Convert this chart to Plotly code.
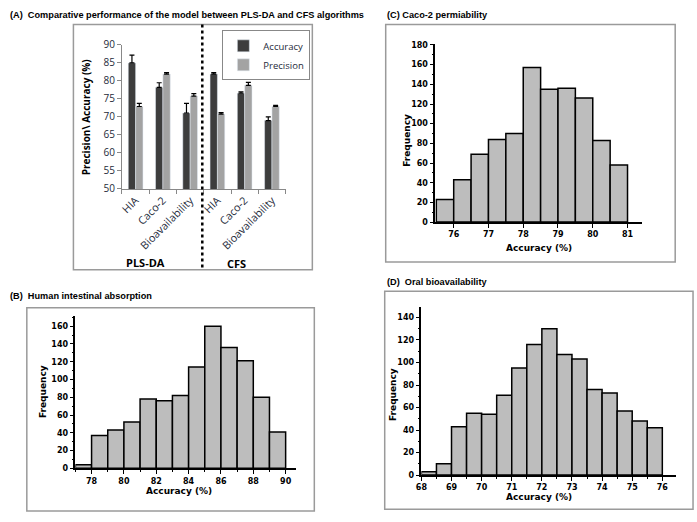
import plotly.graph_objects as go

W, H = 697, 522

# (A) model comparison
groups = ["HIA", "Caco-2", "Bioavailability", "HIA", "Caco-2", "Bioavailability"]
accuracy = [85.0, 78.2, 71.1, 81.9, 76.6, 69.0]
accuracy_err = [2.2, 1.3, 2.7, 0.4, 0.4, 1.0]
precision = [72.9, 81.9, 75.8, 70.8, 78.8, 72.9]
precision_err = [0.9, 0.4, 0.7, 0.4, 0.8, 0.3]

# (C) Caco-2 permeability histogram (bin left edges, width 0.5)
caco_edges = [75.5, 76.0, 76.5, 77.0, 77.5, 78.0, 78.5, 79.0, 79.5, 80.0, 80.5]
caco_freq = [23, 43, 69, 84, 90, 157, 135, 136, 126, 83, 58]

# (B) human intestinal absorption histogram (bin left edges, width 1)
hia_edges = [77, 78, 79, 80, 81, 82, 83, 84, 85, 86, 87, 88, 89]
hia_freq = [4, 37, 43, 52, 78, 76, 82, 114, 160, 136, 121, 80, 41]

# (D) oral bioavailability histogram (bin left edges, width 0.5)
bio_edges = [68.0, 68.5, 69.0, 69.5, 70.0, 70.5, 71.0, 71.5,
             72.0, 72.5, 73.0, 73.5, 74.0, 74.5, 75.0, 75.5]
bio_freq = [3, 10, 43, 55, 54, 71, 95, 116, 130, 107, 103, 76, 73, 57, 48, 42]


def px(x):
    return x / W


def py(y):
    return 1 - y / H


def centers(edges, width):
    return [e + width / 2 for e in edges]


HIST_FONT = dict(family="DejaVu Sans", size=8, color="black", weight="bold")
TITLE_FONT = dict(family="Liberation Sans, Arial", size=9.2, color="black", weight="bold")
XL_FONT = dict(family="Open Sans, Liberation Sans", size=10, color="#1e2a3a")

fig = go.Figure()

pos = list(range(len(groups)))
fig.add_trace(go.Bar(
    x=pos, y=accuracy, name="Accuracy", marker_color="#3d3d3d",
    error_y=dict(type="data", array=accuracy_err, arrayminus=[0] * len(pos),
                 symmetric=False, color="black", thickness=1.2, width=2.5),
    xaxis="x", yaxis="y"))
fig.add_trace(go.Bar(
    x=pos, y=precision, name="Precision", marker_color="#a3a3a3",
    error_y=dict(type="data", array=precision_err, arrayminus=[0] * len(pos),
                 symmetric=False, color="black", thickness=1.2, width=2.5),
    xaxis="x", yaxis="y"))

hist_style = dict(marker=dict(color="#bdbdbd", line=dict(color="black", width=1.5)),
                  showlegend=False)
fig.add_trace(go.Bar(x=centers(caco_edges, 0.5), y=caco_freq, width=0.5,
                     xaxis="x2", yaxis="y2", **hist_style))
fig.add_trace(go.Bar(x=centers(hia_edges, 1), y=hia_freq, width=1,
                     xaxis="x3", yaxis="y3", **hist_style))
fig.add_trace(go.Bar(x=centers(bio_edges, 0.5), y=bio_freq, width=0.5,
                     xaxis="x4", yaxis="y4", **hist_style))


def hist_axes(xdom, ydom, xrange, yrange, xdtick, xminor, ydtick, ytop, anchor_x, anchor_y):
    xa = dict(domain=[px(xdom[0]), px(xdom[1])], range=xrange, anchor=anchor_y,
              showline=True, linecolor="black", linewidth=1.5, ticks="outside",
              ticklen=4, tickwidth=1.2, tickcolor="black", dtick=xdtick,
              tickfont=HIST_FONT, showgrid=False, zeroline=False,
              minor=dict(dtick=xminor, ticks="outside", ticklen=2, tickcolor="black")
              if xminor else None)
    ya = dict(domain=[py(ydom[1]), py(ydom[0])], range=yrange, anchor=anchor_x,
              showline=True, linecolor="black", linewidth=1.5, ticks="outside",
              ticklen=4, tickwidth=1.2, tickcolor="black",
              tickvals=list(range(0, ytop + 1, ydtick)), tickfont=HIST_FONT,
              showgrid=False, zeroline=False,
              minor=dict(dtick=ydtick / 2, ticks="outside", ticklen=2, tickcolor="black"))
    return xa, ya


x2, y2 = hist_axes((433, 642), (38, 221), [75.47, 81.43], [0, 181], 1, None, 20, 180, "x2", "y2")
x3, y3 = hist_axes((70, 293), (318, 474), [77, 90.67], [0, 171], 2, 1, 20, 160, "x3", "y3")
x4, y4 = hist_axes((419, 676), (308, 481), [68, 76.46], [0, 149.5], 1, 0.5, 20, 140, "x4", "y4")

fig.update_layout(
    width=W, height=H, margin=dict(l=0, r=0, t=0, b=0),
    paper_bgcolor="white", plot_bgcolor="white",
    barmode="group", bargap=0.46, bargroupgap=0,
    font=dict(family="Liberation Sans"),
    xaxis=dict(domain=[px(117), px(282)], range=[-0.5, 5.5], anchor="y",
               tickvals=pos, ticktext=groups, tickangle=-45, ticks="",
               tickfont=dict(XL_FONT, size=10.8), showline=True, linecolor="#888",
               linewidth=1, showgrid=False, zeroline=False,
               minor=dict(tick0=-0.5, dtick=1, ticks="outside", ticklen=4,
                          tickcolor="#888")),
    yaxis=dict(domain=[py(187), py(39)], range=[50, 90], dtick=5, anchor="x",
               ticks="outside", ticklen=4, tickcolor="#888", tickfont=XL_FONT,
               showline=True, linecolor="#888", linewidth=1, showgrid=False,
               zeroline=False),
    xaxis2=x2, yaxis2=y2, xaxis3=x3, yaxis3=y3, xaxis4=x4, yaxis4=y4,
    legend=dict(x=px(307), y=py(24), xanchor="right", yanchor="top",
                bordercolor="#888", borderwidth=1, bgcolor="white",
                font=dict(family="Open Sans, Liberation Sans", size=9.5, color="#1e2a3a"),
                tracegroupgap=4, itemwidth=30),
)

shapes = []
for x0, y0, x1, y1 in [(68, 18, 309, 270), (383, 18, 675, 262),
                       (21, 309, 311, 518), (382, 292, 693, 516)]:
    shapes.append(dict(type="rect", xref="paper", yref="paper",
                       x0=px(x0), y0=py(y0), x1=px(x1), y1=py(y1),
                       line=dict(color="#9a9a9a", width=1.5)))
shapes.append(dict(type="line", xref="paper", yref="paper",
                   x0=px(198), x1=px(198), y0=py(18), y1=py(270),
                   line=dict(color="black", width=2.5, dash="dot")))
fig.update_layout(shapes=shapes)

ann = []


def label(text, x, y, font, xanchor="left", angle=0):
    ann.append(dict(text=text, x=px(x), y=py(y), xref="paper", yref="paper",
                    showarrow=False, xanchor=xanchor, yanchor="middle",
                    textangle=angle, font=font))


label("(A)  Comparative performance of the model between PLS-DA and CFS algorithms", 2, 8, TITLE_FONT)
label("(C) Caco-2 permiability", 382, 8, TITLE_FONT)
label("(B)  Human intestinal absorption", 2, 297, TITLE_FONT)
label("(D)  Oral bioavailability", 382, 283, TITLE_FONT)

label("Precision\\ Accuracy (%)", 81, 113,
      dict(family="Open Sans, Liberation Sans", size=10, color="black", weight="bold"),
      xanchor="center", angle=-90)
group_font = dict(family="Open Sans, Liberation Sans", size=11, color="black", weight="bold")
label("PLS-DA", 141, 263, group_font, xanchor="center")
label("CFS", 233, 264, group_font, xanchor="center")

ax_font = dict(family="DejaVu Sans", size=9, color="black", weight="bold")
label("Frequency", 405, 137, ax_font, xanchor="center", angle=-90)
label("Accuracy (%)", 538, 248, ax_font, xanchor="center")
label("Frequency", 38, 395, ax_font, xanchor="center", angle=-90)
label("Accuracy (%)", 174, 497, ax_font, xanchor="center")
label("Frequency", 391, 398, ax_font, xanchor="center", angle=-90)
label("Accuracy (%)", 538, 504, ax_font, xanchor="center")

fig.update_layout(annotations=ann)

# drop the default page margin so the 697x522 figure fills the window exactly
fig.write_html("out.html", config={"displayModeBar": False},
               post_script="document.body.style.margin = '0';")
